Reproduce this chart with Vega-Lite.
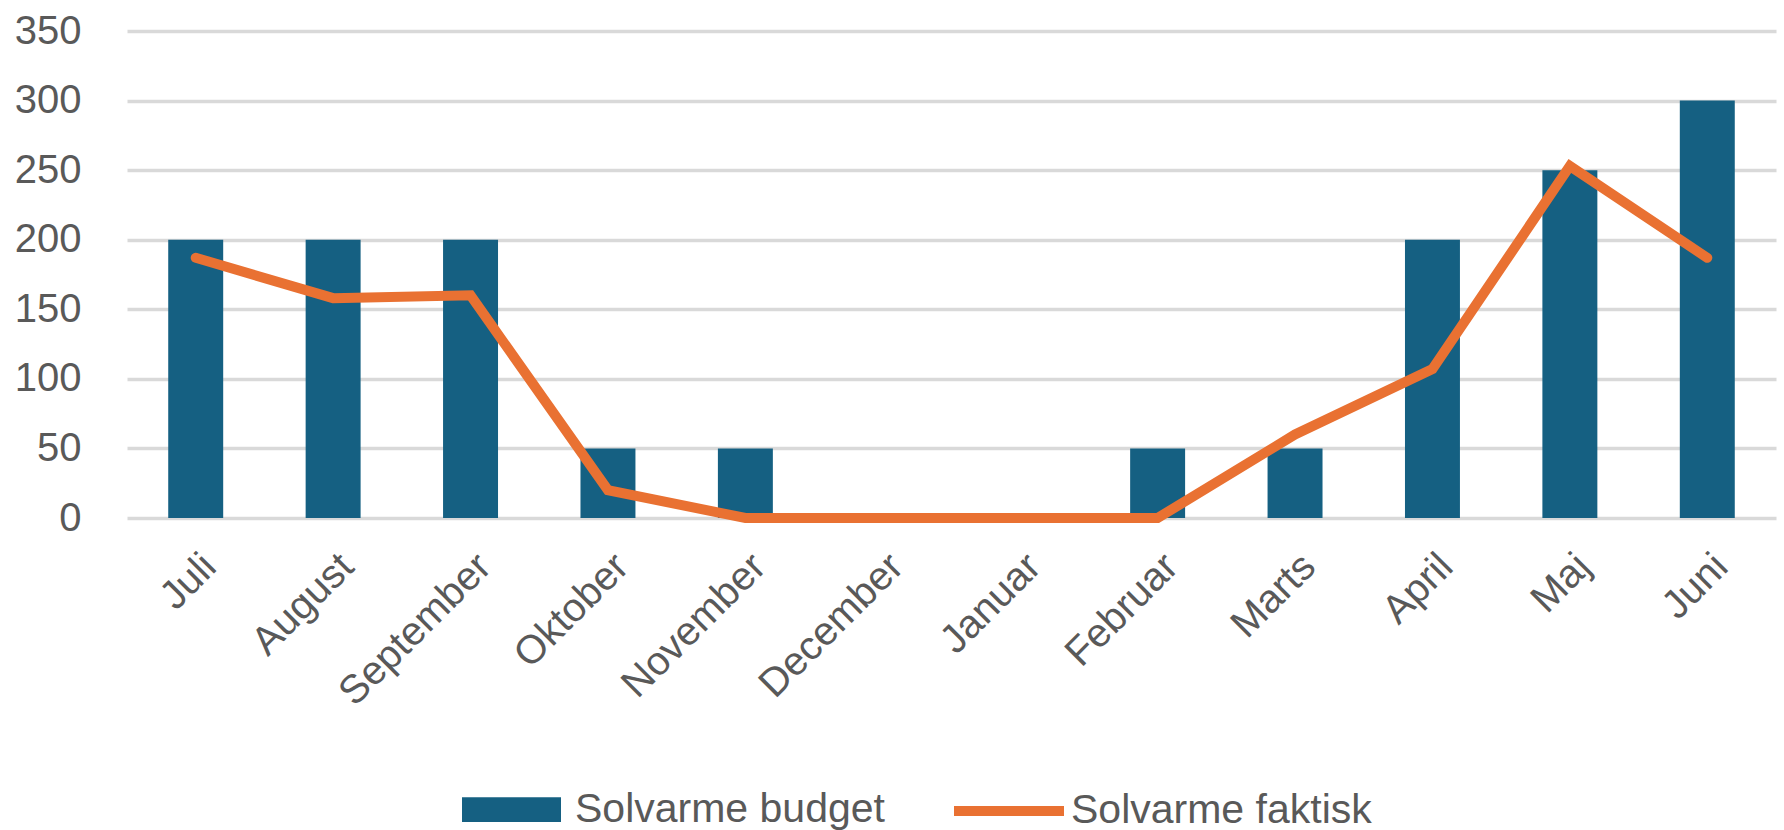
{
  "$schema": "https://vega.github.io/schema/vega-lite/v6.json",
  "autosize": {"type": "none"},
  "width": 1649,
  "height": 487,
  "padding": {"left": 127, "top": 31, "right": 8, "bottom": 312},
  "background": "#ffffff",
  "config": {
    "view": {"stroke": null},
    "font": "Liberation Sans"
  },
  "data": {
    "values": [
      {"maaned": "Juli", "budget": 200, "faktisk": 187},
      {"maaned": "August", "budget": 200, "faktisk": 158},
      {"maaned": "September", "budget": 200, "faktisk": 160},
      {"maaned": "Oktober", "budget": 50, "faktisk": 20},
      {"maaned": "November", "budget": 50, "faktisk": 0},
      {"maaned": "December", "budget": 0, "faktisk": 0},
      {"maaned": "Januar", "budget": 0, "faktisk": 0},
      {"maaned": "Februar", "budget": 50, "faktisk": 0},
      {"maaned": "Marts", "budget": 50, "faktisk": 60},
      {"maaned": "April", "budget": 200, "faktisk": 107},
      {"maaned": "Maj", "budget": 250, "faktisk": 253},
      {"maaned": "Juni", "budget": 300, "faktisk": 187}
    ]
  },
  "encoding": {
    "x": {
      "field": "maaned",
      "type": "nominal",
      "sort": null,
      "scale": {"paddingInner": 0.6, "paddingOuter": 0.3},
      "axis": {
        "title": null,
        "labelAngle": -45,
        "labelFontSize": 40,
        "labelColor": "#595959",
        "labelPadding": 28,
        "labelDx": -6,
        "labelLimit": 400,
        "domain": false,
        "ticks": false,
        "grid": false
      }
    }
  },
  "layer": [
    {
      "mark": {"type": "bar"},
      "encoding": {
        "y": {
          "field": "budget",
          "type": "quantitative",
          "scale": {"domain": [0, 350], "nice": false},
          "axis": {
            "title": null,
            "values": [0, 50, 100, 150, 200, 250, 300, 350],
            "labelFontSize": 40,
            "labelColor": "#595959",
            "labelPadding": 46,
            "domain": false,
            "ticks": false,
            "gridColor": "#D9D9D9",
            "gridWidth": 3.5
          }
        },
        "fill": {
          "datum": "Solvarme budget",
          "type": "nominal",
          "scale": {"domain": ["Solvarme budget"], "range": ["#156082"]},
          "legend": {
            "title": null,
            "orient": "none",
            "legendX": 335,
            "legendY": 729,
            "padding": 0,
            "symbolType": "M-1,-0.25H1V0.25H-1Z",
            "symbolSize": 9801,
            "symbolStrokeWidth": 0,
            "labelFontSize": 41,
            "labelColor": "#595959",
            "labelOffset": 14,
            "labelLimit": 400
          }
        }
      }
    },
    {
      "mark": {"type": "line", "strokeWidth": 10, "strokeCap": "round", "strokeJoin": "miter"},
      "encoding": {
        "y": {"field": "faktisk", "type": "quantitative"},
        "stroke": {
          "datum": "Solvarme faktisk",
          "type": "nominal",
          "scale": {"domain": ["Solvarme faktisk"], "range": ["#E97132"]},
          "legend": {
            "title": null,
            "orient": "none",
            "legendX": 822,
            "legendY": 720,
            "padding": 0,
            "symbolType": "stroke",
            "symbolSize": 12100,
            "symbolStrokeWidth": 10,
            "labelFontSize": 41,
            "labelColor": "#595959",
            "labelOffset": 2,
            "labelLimit": 400
          }
        }
      }
    }
  ]
}
